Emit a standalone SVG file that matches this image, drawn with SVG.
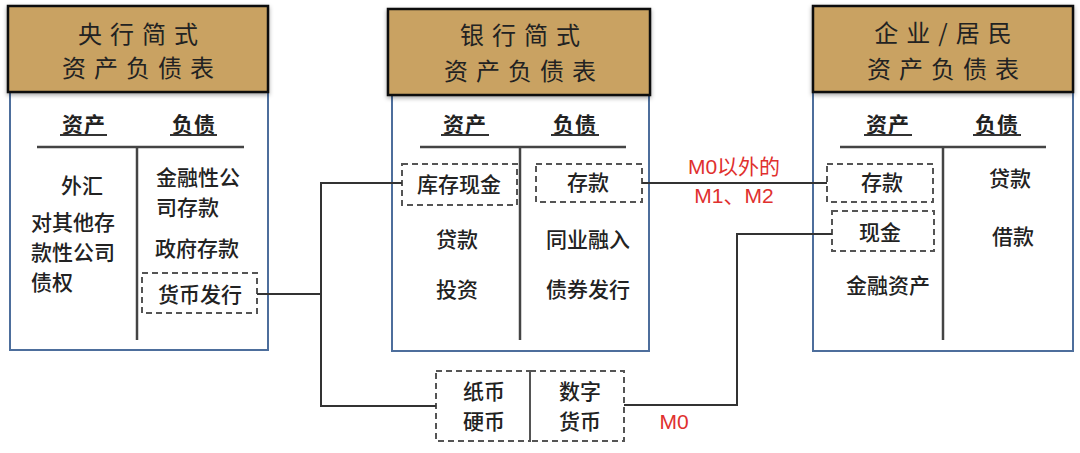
<svg xmlns="http://www.w3.org/2000/svg" width="1080" height="453" viewBox="0 0 1080 453">
<defs>
<filter id="sh" x="-5%" y="-5%" width="110%" height="120%"><feDropShadow dx="0" dy="2" stdDeviation="2" flood-color="#000" flood-opacity="0.35"/></filter>
</defs>
<style>
.hdr{fill:#C9A262;stroke:#111;stroke-width:2.5}
.body{fill:#fff;stroke:#4D6E9C;stroke-width:2}
.ht{font-family:"Noto Sans CJK SC","Noto Sans CJK JP",sans-serif;font-size:24px;fill:#222;text-anchor:middle;letter-spacing:8px}
.t{font-family:"Noto Sans CJK SC","Noto Sans CJK JP",sans-serif;font-size:21px;fill:#222;text-anchor:middle;font-weight:500}
.tl{text-anchor:start}
.th{font-weight:700;letter-spacing:1px}
.rule{stroke:#444;stroke-width:2.5;fill:none}
.ul{stroke:#333;stroke-width:2}
.dash{fill:none;stroke:#555;stroke-width:2;stroke-dasharray:6 4}
.conn{stroke:#333;stroke-width:2;fill:none}
.red{font-family:"Liberation Sans","Noto Sans CJK SC",sans-serif;font-size:21px;fill:#E0302E;text-anchor:middle}
</style>

<g id="central-bank">
<rect class="body" x="10" y="91" width="258" height="259"/>
<rect class="hdr" x="8" y="6" width="260" height="86" filter="url(#sh)"/>
<text class="ht" x="142" y="43"><tspan x="142" y="43">央行简式</tspan><tspan x="142" y="77">资产负债表</tspan></text>
<text class="t th" x="84" y="132">资产</text>
<line class="ul" x1="60" y1="135" x2="107" y2="135"/>
<text class="t th" x="194" y="132">负债</text>
<line class="ul" x1="170" y1="135" x2="217" y2="135"/>
<line class="rule" x1="37" y1="147" x2="244" y2="147"/>
<line class="rule" x1="137" y1="147" x2="137" y2="340"/>
<text class="t" x="82" y="193">外汇</text>
<text class="t tl" x="31" y="230"><tspan x="31" y="230">对其他存</tspan><tspan x="31" y="260">款性公司</tspan><tspan x="31" y="290">债权</tspan></text>
<text class="t tl" x="156" y="185"><tspan x="156" y="185">金融性公</tspan><tspan x="156" y="215">司存款</tspan></text>
<text class="t tl" x="155" y="256">政府存款</text>
<rect class="dash" x="142" y="273" width="115" height="40"/>
<text class="t" x="200" y="302">货币发行</text>
</g>

<g id="bank">
<rect class="body" x="392" y="95" width="257" height="256"/>
<rect class="hdr" x="388" y="9" width="262" height="86" filter="url(#sh)"/>
<text class="ht" x="524" y="44"><tspan x="524" y="44">银行简式</tspan><tspan x="524" y="80">资产负债表</tspan></text>
<text class="t th" x="465" y="132">资产</text>
<line class="ul" x1="441" y1="135" x2="489" y2="135"/>
<text class="t th" x="575" y="132">负债</text>
<line class="ul" x1="551" y1="135" x2="599" y2="135"/>
<line class="rule" x1="420" y1="147" x2="626" y2="147"/>
<line class="rule" x1="520" y1="147" x2="520" y2="340"/>
<rect class="dash" x="402" y="164" width="115" height="41"/>
<text class="t" x="459" y="192">库存现金</text>
<rect class="dash" x="536" y="164" width="106" height="38"/>
<text class="t" x="588" y="190">存款</text>
<text class="t" x="457" y="247">贷款</text>
<text class="t" x="588" y="247">同业融入</text>
<text class="t" x="457" y="297">投资</text>
<text class="t" x="588" y="297">债券发行</text>
</g>

<g id="enterprise">
<rect class="body" x="813" y="92" width="260" height="259"/>
<rect class="hdr" x="813" y="6" width="260" height="86" filter="url(#sh)"/>
<text class="ht" x="947" y="42"><tspan x="947" y="42">企业/居民</tspan><tspan x="947" y="78">资产负债表</tspan></text>
<text class="t th" x="888" y="132">资产</text>
<line class="ul" x1="864" y1="135" x2="912" y2="135"/>
<text class="t th" x="997" y="132">负债</text>
<line class="ul" x1="973" y1="135" x2="1021" y2="135"/>
<line class="rule" x1="840" y1="147" x2="1046" y2="147"/>
<line class="rule" x1="943" y1="147" x2="943" y2="340"/>
<rect class="dash" x="827" y="164" width="106" height="38"/>
<text class="t" x="882" y="190">存款</text>
<rect class="dash" x="832" y="211" width="102" height="40"/>
<text class="t" x="880" y="240">现金</text>
<text class="t" x="888" y="293">金融资产</text>
<text class="t" x="1010" y="186">贷款</text>
<text class="t" x="1013" y="244">借款</text>
</g>

<g id="currency">
<rect class="dash" x="436" y="371" width="94" height="70"/>
<rect class="dash" x="530" y="371" width="94" height="70"/>
<text class="t" x="484" y="399"><tspan x="484" y="399">纸币</tspan><tspan x="484" y="429">硬币</tspan></text>
<text class="t" x="580" y="399" font-weight="700"><tspan x="580" y="399">数字</tspan><tspan x="580" y="429">货币</tspan></text>
</g>

<g id="connectors">
<polyline class="conn" points="257,294 321,294"/>
<polyline class="conn" points="402,183 321,183 321,406 436,406"/>
<polyline class="conn" points="642,183 827,183"/>
<polyline class="conn" points="832,234 737,234 737,405 624,405"/>
<text class="red" x="734" y="174">M0以外的</text>
<text class="red" x="734" y="203">M1、M2</text>
<text class="red" x="674" y="429">M0</text>
</g>
</svg>
